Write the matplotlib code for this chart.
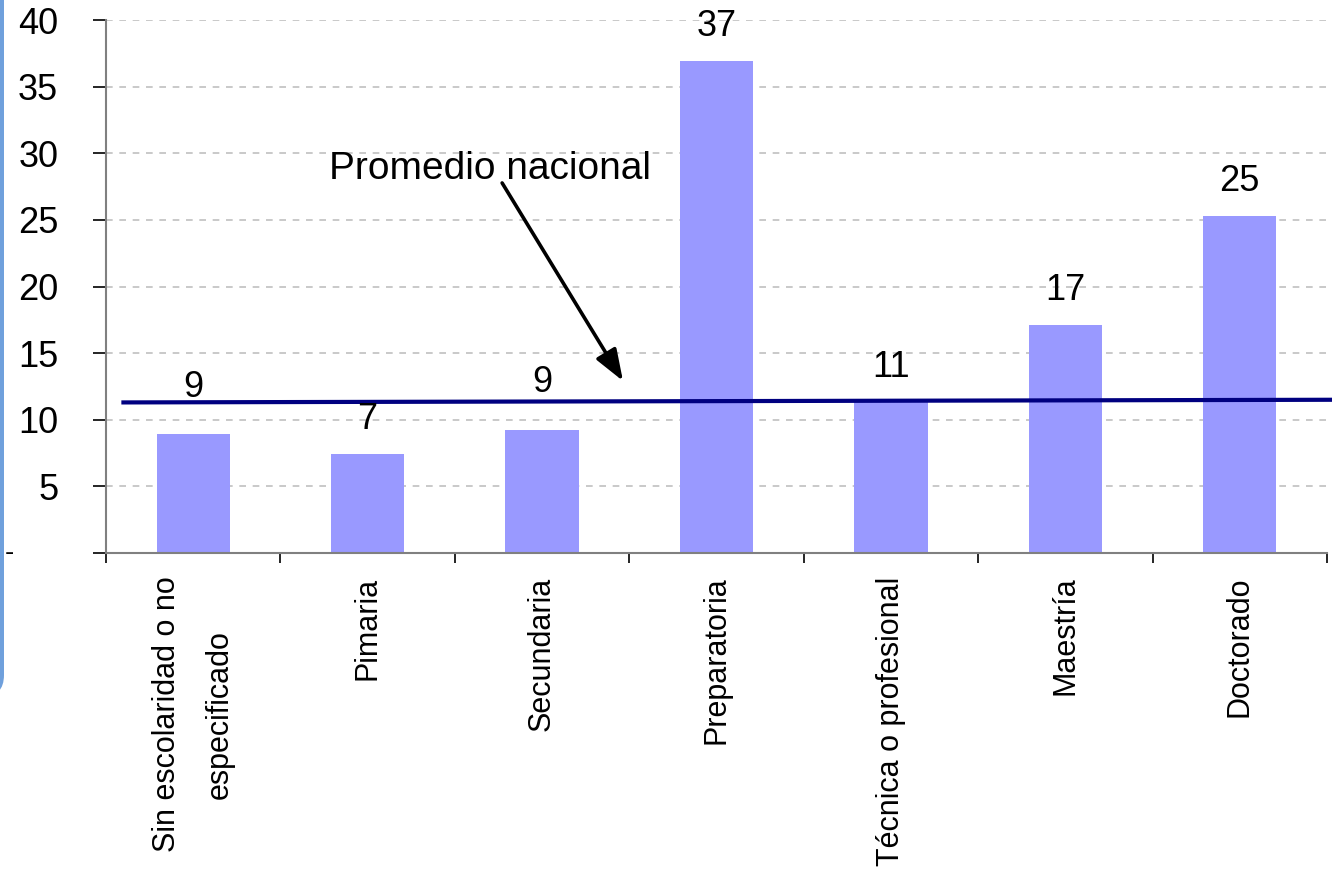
import numpy as np
import matplotlib
matplotlib.use("Agg")
import matplotlib.pyplot as plt
from matplotlib.patches import FancyBboxPatch

plt.rcParams['font.family'] = ['Liberation Sans', 'DejaVu Sans']

# datos
categorias = ["Sin escolaridad o no\nespecificado", "Pimaria", "Secundaria",
              "Preparatoria", "Técnica o profesional", "Maestría", "Doctorado"]
valores = [8.93, 7.43, 9.25, 36.9, 11.3, 17.1, 25.3]
etiquetas = ["9", "7", "9", "37", "11", "17", "25"]
promedio_x = [0.1, 7.03]
promedio_y = [11.3, 11.5]

fig = plt.figure(figsize=(13.32, 8.77), dpi=100)
ax = fig.add_axes([106 / 1332, 1 - 553 / 877, 1221 / 1332, 533 / 877])

x = np.arange(len(categorias)) + 0.5
bars = ax.bar(x, valores, width=0.42, color='#9999ff', zorder=2)

# etiquetas de datos (las dos "9" subidas para librar la linea)
extra = [27, 18, 27, 18, 18, 18, 18]
for xi, v, lab, off in zip(x, valores, etiquetas, extra):
    ax.annotate(lab, (xi, v), xytext=(0, off), textcoords='offset points',
                ha='center', va='baseline', fontsize=26, zorder=4)

# linea del promedio nacional
ax.plot(promedio_x, promedio_y, color='#000080', lw=3, zorder=3, clip_on=False)

ax.text(2.199, 28.8, "Promedio nacional", ha='center', va='center', fontsize=28)
ax.annotate("", xy=(2.964, 12.91), xytext=(2.271, 27.77),
            arrowprops=dict(arrowstyle='-|>,head_length=0.6,head_width=0.22', lw=2.6,
                            color='black', mutation_scale=32, shrinkA=0, shrinkB=0))

ax.set_xlim(0, 7)
ax.set_ylim(0, 40)

# ejes
ax.set_yticks(np.arange(0, 41, 5))
ax.set_yticklabels([""] + [str(v) for v in range(5, 41, 5)])
ax.tick_params(axis='y', length=9.4, width=1.2, pad=25, labelsize=26, colors='black')
ax.text(-106 / 174.4 + 0.028, 0, "-", ha='left', va='center', fontsize=20,
        transform=ax.transData, clip_on=False)

ax.set_xticks(np.arange(0, 8))
ax.set_xticklabels([])
ax.set_xticks(x, minor=True)
ax.set_xticklabels(categorias, minor=True, rotation=90, fontsize=22,
                   va='top', ha='center', multialignment='center', linespacing=2.0)
ax.tick_params(axis='x', which='major', length=7, width=1.2, color='black')
ax.tick_params(axis='x', which='minor', length=0, pad=17)

ax.grid(axis='y', color='#c0c0c0', linestyle=(0, (4, 4)), lw=1.2, zorder=0)
ax.set_axisbelow(True)
for s in ['top', 'right']:
    ax.spines[s].set_visible(False)
for s in ['left', 'bottom']:
    ax.spines[s].set_color('#808080')
    ax.spines[s].set_linewidth(1.5)

# borde azul de la diapositiva a la izquierda
borde = FancyBboxPatch((-100, 180), 104, 800, boxstyle="round,pad=0,rounding_size=22",
                       transform=None, facecolor='#6fa0dc', edgecolor='none')
fig.patches.append(borde)

fig.savefig("out.png", dpi=100)
